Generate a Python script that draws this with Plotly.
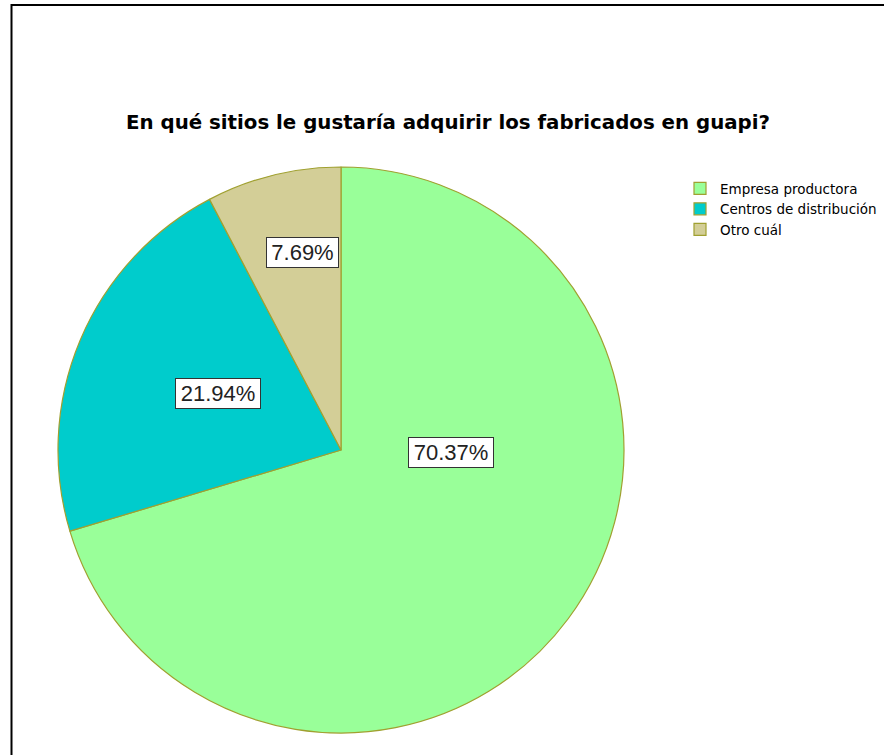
import plotly.graph_objects as go

# --- data ---
categories = ["Empresa productora", "Centros de distribución", "Otro cuál"]
percentages = [70.37, 21.94, 7.69]
slice_colors = ["#99FF99", "#00CCCC", "#D3CE97"]
title_text = "En qué sitios le gustaría adquirir los fabricados en guapi?"

W, H = 884, 755

# pie centre / radius in pixels (reference ellipse is ~589 x 545)
cx, cy, r = 341, 450, 283

fig = go.Figure(
    go.Pie(
        labels=categories,
        values=percentages,
        sort=False,
        direction="clockwise",
        rotation=0,
        textinfo="none",
        marker=dict(colors=slice_colors, line=dict(color="#A0A030", width=1.2)),
        domain=dict(
            x=[(cx - r) / W, (cx + r) / W],
            y=[1 - (cy + r) / H, 1 - (cy - r) / H],
        ),
        hovertemplate="%{label}: %{value:.2f}%<extra></extra>",
    )
)

# boxed percentage labels (centre positions in pixels, as in the reference)
label_px = [(451, 452), (175, 394), (302, 252)]
for pct, (px, py) in zip(percentages, label_px):
    txt = f"{pct:.2f}%"
    fig.add_annotation(
        x=px / W, y=1 - py / H, xref="paper", yref="paper",
        text=txt, showarrow=False,
        font=dict(family="Liberation Sans, Arial", size=22, color="#222222"),
        width=13 * len(txt) + 2,
        bgcolor="white", bordercolor="#333333", borderwidth=1, borderpad=2,
    )

# outer frame (right and bottom edges fall outside the picture)
fig.add_shape(
    type="rect", xref="paper", yref="paper",
    x0=11.5 / W, x1=1.1, y0=-0.1, y1=1 - 5 / H,
    line=dict(color="black", width=2), fillcolor="rgba(0,0,0,0)",
)

fig.update_layout(
    width=W, height=H,
    margin=dict(l=0, r=0, t=0, b=0),
    paper_bgcolor="white",
    title=dict(
        text=f"<b>{title_text}</b>",
        x=448 / W, xanchor="center", y=1 - 122 / H, yanchor="middle",
        font=dict(family="DejaVu Sans", size=19.8, color="black"),
    ),
    legend=dict(
        x=680 / W, xanchor="left", y=1 - 173 / H, yanchor="top",
        font=dict(family="DejaVu Sans", size=13.5, color="black"),
        itemwidth=30, tracegroupgap=0, bgcolor="rgba(0,0,0,0)",
    ),
    showlegend=True,
)

fig.write_html(
    "out.html",
    config={"displayModeBar": False},
    post_script="document.body.style.margin='0';",
)
